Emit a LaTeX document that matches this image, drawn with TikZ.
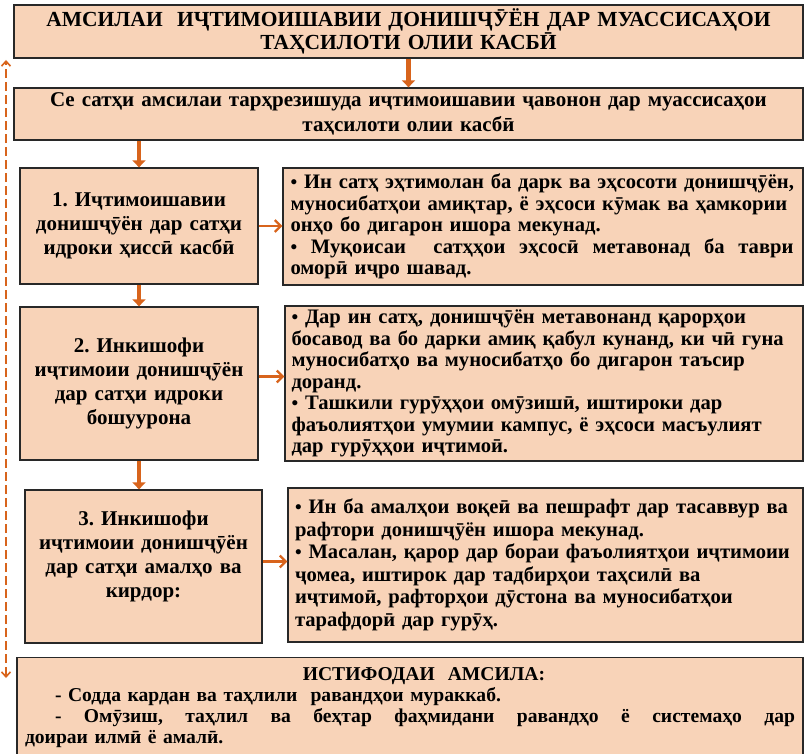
\documentclass[tikz,border=0pt]{standalone}
\usepackage{fontspec}
\setmainfont{Liberation Serif}
\frenchspacing
\usetikzlibrary{arrows.meta}
\definecolor{peach}{RGB}{248,211,184}
\definecolor{arrowor}{RGB}{216,100,28}
\definecolor{framegray}{RGB}{40,40,40}
\newcommand{\notedot}{{\fontsize{19}{19}\selectfont •}}
\newcommand{\fullline}[2]{\makebox[#1][s]{\spaceskip=0pt\xspaceskip=0pt #2}}

\begin{document}
\begin{tikzpicture}[x=1pt, y=-1pt, semithick,
    box/.style={draw=framegray, line width=1.3pt, fill=peach, inner sep=0pt},
    stagebox/.style={box, text width=232pt, align=center,
      font=\bfseries\fontsize{21}{24}\selectfont},
    notebox/.style={box, align=left,
      font=\bfseries\fontsize{20.6}{21.5}\selectfont},
    downarr/.style={draw=arrowor, line width=4.5pt, -{Triangle[length=7pt,width=13pt]}},
    sidearr/.style={draw=arrowor, line width=2.2pt, -{Straight Barb[length=6pt,width=12pt]}},
    sidelink/.style={draw=arrowor, line width=1.6pt, dash pattern=on 9pt off 4pt,
      {Straight Barb[length=5pt,width=9pt]}-{Straight Barb[length=5pt,width=9pt]}}]
  \useasboundingbox (0,0) rectangle (806,754);
  \clip (0,0) rectangle (806,754);

  \node[box, minimum width=789pt, minimum height=53pt, text width=770pt, align=center,
    font=\bfseries\fontsize{21.5}{23}\selectfont] (title) at (408.5,31.5)
    {АМСИЛАИ~ ИҶТИМОИШАВИИ ДОНИШҶӮЁН ДАР МУАССИСАҲОИ\\ТАҲСИЛОТИ ОЛИИ КАСБӢ};
  \node[box, minimum width=789pt, minimum height=52pt, text width=770pt, align=center,
    font=\bfseries\fontsize{21}{25}\selectfont] (levels) at (408.5,114)
    {Се сатҳи амсилаи тарҳрезишуда иҷтимоишавии ҷавонон дар муассисаҳои\\таҳсилоти олии касбӣ};

  \node[stagebox, minimum width=238pt, minimum height=116pt] (stage1) at (139,226)
    {1. Иҷтимоишавии\\донишҷӯён дар сатҳи\\идроки ҳиссӣ касбӣ};
  \node[stagebox, minimum width=238pt, minimum height=153pt] (stage2) at (139,383.5)
    {2. Инкишофи\\иҷтимоии донишҷӯён\\дар сатҳи идроки\\бошуурона};
  \node[stagebox, minimum width=237pt, minimum height=153pt] (stage3) at (143.5,566.5)
    {3. Инкишофи\\иҷтимоии донишҷӯён\\дар сатҳи амалҳо ва\\кирдор:\\ \mbox{}};

  \node[notebox, minimum width=520pt, minimum height=117pt, text width=505pt] (note1) at (543,226.5)
    {\notedot\ Ин сатҳ эҳтимолан ба дарк ва эҳсосоти донишҷӯён,\\
     муносибатҳои амиқтар, ё эҳсоси кӯмак ва ҳамкории\\
     онҳо бо дигарон ишора мекунад.\\
     \fullline{503pt}{\notedot\ Муқоисаи \ сатҳҳои эҳсосӣ метавонад ба таври}\\
     оморӣ иҷро шавад.};
  \node[notebox, minimum width=518pt, minimum height=155pt, text width=505pt] (note2) at (544,383.5)
    {\notedot\ Дар ин сатҳ, донишҷӯён метавонанд қарорҳои\\
     босавод ва бо дарки амиқ қабул кунанд, ки чӣ гуна\\
     муносибатҳо ва муносибатҳо бо дигарон таъсир\\
     доранд.\\
     \notedot\ Ташкили гурӯҳҳои омӯзишӣ, иштироки дар\\
     фаъолиятҳои умумии кампус, ё эҳсоси масъулият\\
     дар гурӯҳҳои иҷтимоӣ.};
  \node[notebox, minimum width=515pt, minimum height=154pt, text width=501pt,
    font=\bfseries\fontsize{20.6}{22.5}\selectfont] (note3) at (545.5,565)
    {\notedot\ Ин ба амалҳои воқеӣ ва пешрафт дар тасаввур ва\\
     рафтори донишҷӯён ишора мекунад.\\
     \notedot\ Масалан, қарор дар бораи фаъолиятҳои иҷтимоии\\
     ҷомеа, иштирок дар тадбирҳои таҳсилӣ ва\\
     иҷтимоӣ, рафторҳои дӯстона ва муносибатҳои\\
     тарафдорӣ дар гурӯҳ.};

  \node[box, anchor=north, minimum width=786pt, minimum height=100pt, text width=770pt, align=left,
    font=\bfseries\fontsize{19.6}{21}\selectfont] (usage) at (410,657)
    {\makebox[770pt][c]{\hspace*{28pt}ИСТИФОДАИ~ АМСИЛА:}\\
     \hspace*{30pt}- Содда кардан ва таҳлили \ равандҳои мураккаб.\\
     \fullline{770pt}{\hspace*{30pt}- Омӯзиш, таҳлил ва беҳтар фаҳмидани равандҳо ё системаҳо дар}\\
     доираи илмӣ ё амалӣ.};

  \draw[downarr] (title.south) -- (levels.north);
  \draw[downarr] (stage1.north |- levels.south) -- (stage1.north);
  \draw[downarr] (stage1.south) -- (stage2.north);
  \draw[downarr] (stage2.south) -- (stage2.south |- stage3.north);
  \draw[sidearr] (stage1.east) -- (note1.west |- stage1.east);
  \draw[sidearr] ([yshift=7pt]stage2.east) -- ([yshift=7pt]stage2.east -| note2.west);
  \draw[sidearr] ([yshift=5pt]stage3.east) -- ([yshift=5pt]stage3.east -| note3.west);

  \coordinate (linktop) at (6,60);
  \coordinate (linkbot) at (6,678);
  \draw[sidelink] (linkbot) -- (linktop);
\end{tikzpicture}
\end{document}
